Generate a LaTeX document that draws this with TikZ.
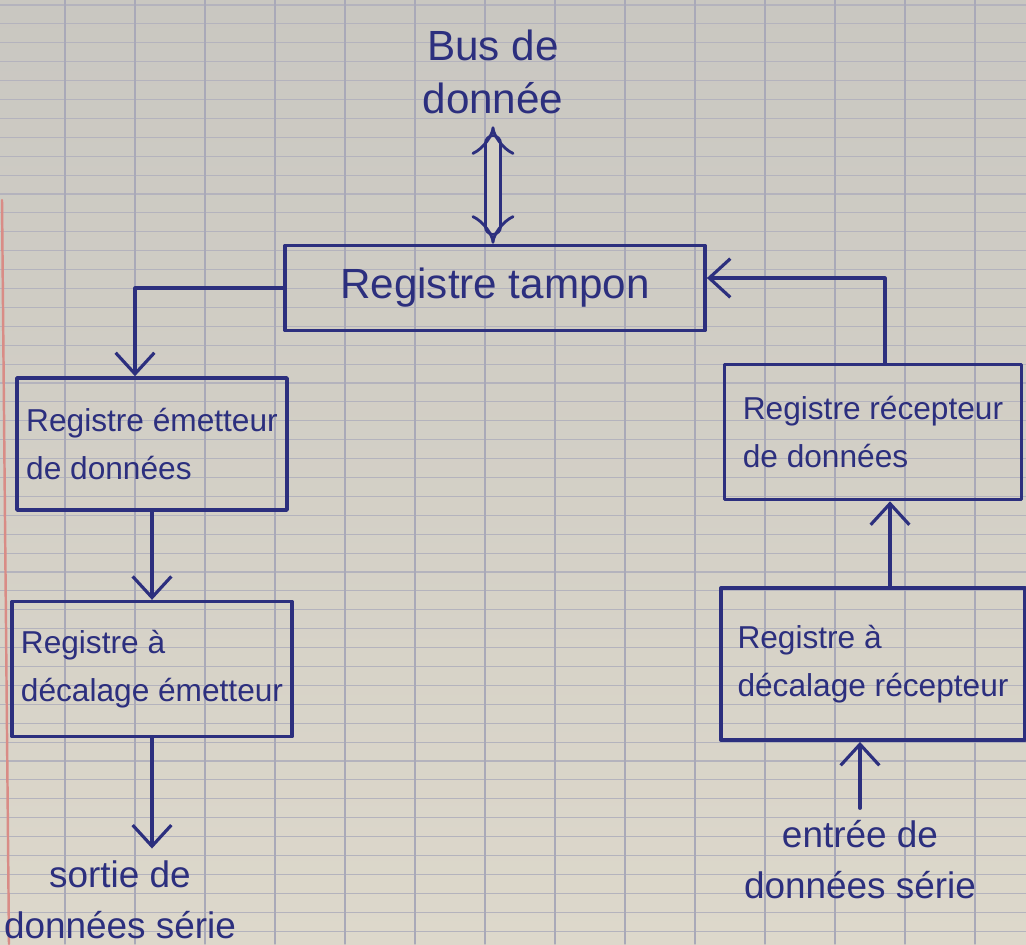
\documentclass[tikz,border=0pt]{standalone}
\usepackage{fontspec}
\setmainfont{Liberation Sans}
\usetikzlibrary{arrows.meta}
\definecolor{ink}{HTML}{2C2F7E}
\definecolor{papertop}{HTML}{C9C7C1}
\definecolor{paperbot}{HTML}{DDD8CB}
\definecolor{rule}{HTML}{B4B3BD}
\definecolor{margin}{HTML}{D98C86}

\begin{document}
\begin{tikzpicture}[x=0.01cm,y=-0.01cm,>={Straight Barb[length=6pt,width=11pt]},
                    line cap=round,line join=round,node distance=2.25cm,
                    reg/.style={rectangle,draw=ink,line width=1pt,text=ink,align=left,
                                inner xsep=2.5pt,font=\fontsize{9}{13.5}\selectfont},
                    lbl/.style={text=ink,align=center,font=\fontsize{10.5}{14.5}\selectfont},
                    wire/.style={draw=ink,line width=0.9pt}]
  \useasboundingbox (0,0) rectangle (1026,944);
  \shade[top color=papertop,bottom color=paperbot] (0,0) rectangle (1026,944);
  \foreach \i in {0,...,49}
    \draw[rule,line width=0.3pt] (0,5+18.9*\i) -- (1026,5+18.9*\i);
  \foreach \i in {0,...,13}
    \draw[rule!92!ink,line width=0.35pt] (65+70*\i,0) -- (65+70*\i,944);
  \draw[margin,line width=0.7pt] (2,200) -- (9,944);

  \node[reg,minimum width=4.2cm,minimum height=0.85cm,
        font=\fontsize{12}{14}\selectfont] (tampon) at (495,288) {Registre tampon};
  \node[lbl,font=\fontsize{12}{15}\selectfont] (bus) at (493,72) {Bus de\\donnée};
  \node[reg,minimum width=2.7cm,minimum height=1.32cm] (emet) at (152,444)
       {Registre émetteur\\de données};
  \node[reg,minimum width=2.72cm,minimum height=1.35cm] (decemet) [below of=emet]
       {Registre à\\décalage émetteur};
  \node[lbl] (sortie) at (120,900) {sortie de\\données série};
  \node[reg,minimum width=2.97cm,minimum height=1.35cm] (recep) at (873,432)
       {Registre récepteur\\de données};
  \node[reg,minimum width=3.04cm,minimum height=1.52cm] (decrecep)
       [below of=recep,node distance=2.32cm] {Registre à\\décalage récepteur};
  \node[lbl] (entree) at (860,860) {entrée de\\données série};

  \draw[ink,line width=0.8pt,double=paperbot!60!papertop,double distance=3.5pt,
        {Implies}-{Implies}] (bus.south) -- (bus.south |- tampon.north);
  \draw[wire,->] (tampon.west) -| ([xshift=-0.17cm]emet.north);
  \path[wire] (emet) edge[->] (decemet);
  \draw[wire,->] (decemet.south) -- (decemet.south |- sortie.north);
  \draw[wire,->] ([xshift=0.12cm]recep.north) |- ([yshift=0.1cm]tampon.east);
  \draw[wire,->] ([xshift=0.17cm]decrecep.north) -- ([xshift=0.17cm]recep.south);
  \draw[wire,->] (entree.north) -- (entree.north |- decrecep.south);
\end{tikzpicture}
\end{document}
